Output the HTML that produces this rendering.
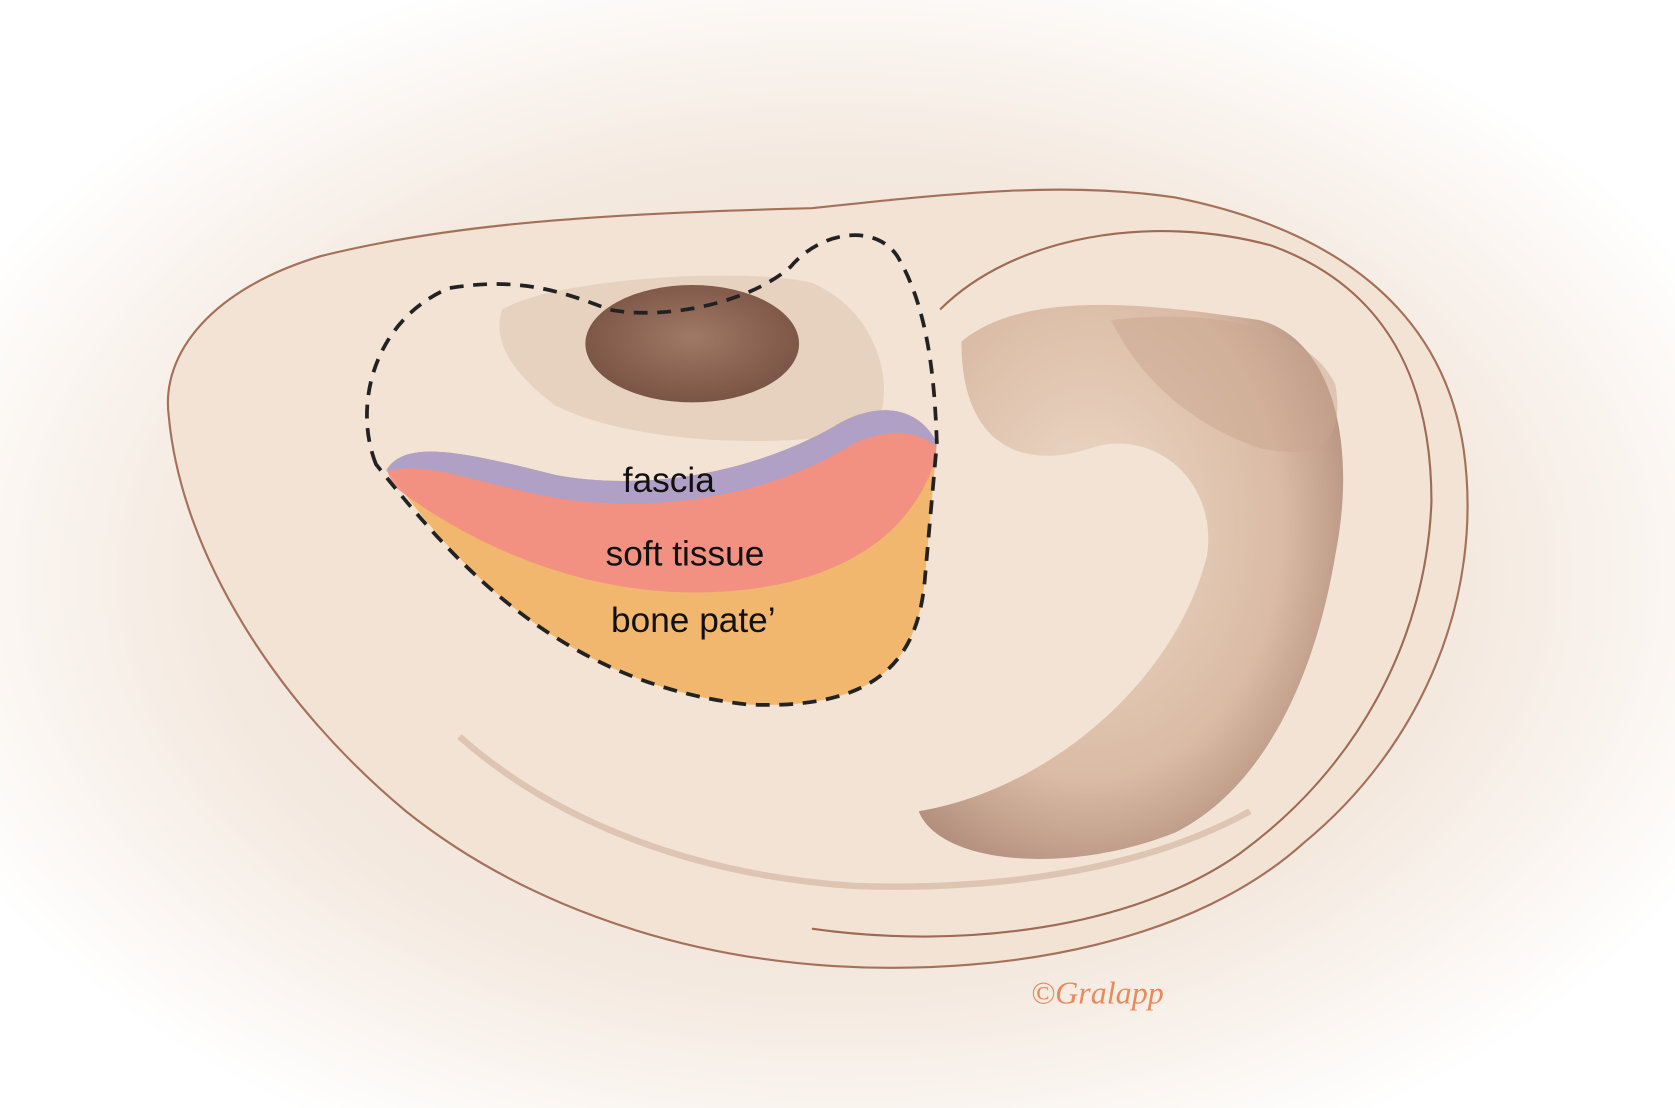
<!DOCTYPE html>
<html><head><style>html,body{margin:0;padding:0;background:#fff}svg{display:block}</style></head>
<body>
<svg width="1675" height="1108" viewBox="0 0 1568 1038" preserveAspectRatio="none" xmlns="http://www.w3.org/2000/svg">
<defs>
<radialGradient id="bg" cx="50%" cy="52%" r="58%">
<stop offset="0" stop-color="#f1e2d4"/><stop offset="0.65" stop-color="#f4e9df"/><stop offset="1" stop-color="#ffffff"/>
</radialGradient>
<radialGradient id="cav" cx="40%" cy="40%" r="65%">
<stop offset="0" stop-color="#ecd8c6"/><stop offset="0.7" stop-color="#d6b49c"/><stop offset="1" stop-color="#a98270"/>
</radialGradient>
<radialGradient id="hole" cx="50%" cy="45%" r="55%">
<stop offset="0" stop-color="#a07866"/><stop offset="1" stop-color="#7a5444"/>
</radialGradient>
</defs>
<rect width="1568" height="1038" fill="url(#bg)"/>
<path d="M158,390 C150,330 200,270 300,240 C420,210 560,200 760,195 C900,180 1000,170 1100,185 C1250,215 1350,290 1370,420 C1390,560 1330,700 1220,790 C1120,880 950,915 780,905 C620,895 480,840 380,760 C260,660 170,520 158,390Z" fill="#f2e3d5" stroke="#a5705a" stroke-width="2"/>
<path d="M880,290 C950,220 1080,200 1190,230 C1300,270 1340,360 1340,470 C1335,600 1270,720 1160,800 C1060,870 900,890 760,870" fill="none" stroke="#9e6a55" stroke-width="2"/>
<path d="M430,690 C520,770 650,820 800,830 C950,835 1080,810 1170,760" fill="none" stroke="#c9a590" stroke-width="6" opacity="0.5"/>
<path d="M900,320 C960,270 1080,285 1180,300 C1250,320 1270,420 1250,520 C1230,640 1180,740 1100,780 C1000,820 880,810 860,760 C980,740 1100,640 1130,520 C1140,450 1080,400 1020,420 C960,440 900,420 900,320Z" fill="url(#cav)" opacity="0.85"/>
<path d="M1040,300 C1120,290 1220,300 1250,360 C1260,420 1230,430 1180,420 C1120,400 1070,360 1040,300Z" fill="#c9a590" opacity="0.5"/>
<path d="M470,290 C520,260 700,250 760,265 C820,290 840,360 820,400 C760,420 600,420 520,380 C480,350 460,320 470,290Z" fill="#e3cbb6" opacity="0.7"/>
<ellipse cx="648" cy="322" rx="100" ry="55" fill="url(#hole)"/>
<path d="M362,440 C420,520 520,640 700,660 C820,665 860,620 866,540 L877,415 C860,380 820,375 780,400 C700,445 600,460 520,445 C440,425 380,410 362,440Z" fill="#f0a84c" opacity="0.75"/>
<path d="M362,440 C380,410 440,425 520,445 C600,460 700,445 780,400 C820,375 860,380 877,415 L875,432 C850,510 770,555 650,555 C540,555 440,510 368,455Z" fill="#f28a86" opacity="0.85"/>
<path d="M362,440 C380,410 440,425 520,445 C600,460 700,445 780,400 C820,375 860,380 877,415 L876,418 C860,405 835,400 800,415 C720,465 620,480 530,468 C450,455 400,430 362,442Z" fill="#a9a2cc" opacity="0.9"/>
<path d="M352,435 C330,380 350,300 420,270 C480,260 520,270 570,290 C620,300 700,285 740,250 C770,215 820,210 840,240 C870,290 875,360 877,415 L866,540 C860,620 820,665 700,660 C520,640 420,520 352,435Z" fill="none" stroke="#222" stroke-width="3.5" stroke-dasharray="13,9"/>
<g font-family="'Liberation Sans',sans-serif" font-size="33" fill="#111">
<text x="583" y="461">fascia</text>
<text x="567" y="530">soft tissue</text>
<text x="572" y="592">bone pate’</text>
</g>
<text x="965" y="940" font-family="'Liberation Serif',serif" font-style="italic" font-size="30" fill="#e88a5a">©Gralapp</text>
</svg>
</body></html>
